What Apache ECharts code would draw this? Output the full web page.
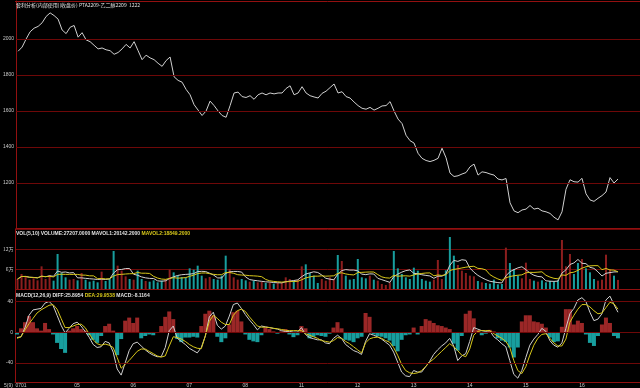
<!DOCTYPE html>
<html><head><meta charset="utf-8">
<script src="https://cdn.jsdelivr.net/npm/echarts@6/dist/echarts.min.js"></script>
<style>html,body{margin:0;padding:0;background:#000;}#c{width:640px;height:388px;}</style>
</head><body><div id="c"></div>
<script>
// ---- data ----
const titleText = '套利分析(内部使用)(收盘价) PTA2209-乙二醇2209  1222';
const xLabelIndex = [1,15,29,43,57,71,85,99,113,127,141];
const xLabelText = ['0701','05','06','07','08','11','12','13','14','15','16'];
const mainTicks = [1200,1400,1600,1800,2000];
const volTicks = [60000,120000];
const volTickText = ['6万','12万'];
const macdTicks = [-40,0,40];

const price = [1932,1955,2000,2040,2060,2070,2090,2125,2145,2130,
 2110,2050,2030,2065,2075,2010,2035,1995,1985,1965,
 1945,1950,1940,1935,1915,1925,1945,1970,1950,1985,
 1935,1885,1910,1895,1885,1865,1848,1880,1900,1790,
 1770,1760,1720,1690,1635,1605,1575,1600,1655,1630,
 1600,1575,1565,1630,1700,1705,1680,1675,1685,1665,
 1690,1700,1690,1700,1695,1700,1700,1725,1740,1690,
 1700,1735,1700,1685,1678,1672,1698,1710,1730,1750,
 1700,1707,1680,1672,1650,1630,1615,1610,1620,1605,
 1615,1628,1630,1652,1600,1555,1530,1465,1435,1422,
 1365,1337,1325,1319,1326,1337,1393,1340,1255,1236,
 1240,1250,1258,1290,1305,1244,1262,1258,1250,1244,
 1222,1217,1225,1090,1045,1035,1050,1055,1075,1055,
 1060,1045,1040,1031,1010,995,1040,1165,1218,1207,
 1205,1226,1140,1106,1098,1115,1130,1150,1230,1200,
 1222];

const volume = [30000,45000,38000,28000,32000,26000,68000,30000,42000,25000,
 105000,48000,35000,28000,30000,26000,48000,28000,22000,25000,
 20000,52000,24000,30000,114000,70000,55000,38000,30000,28000,
 55000,30000,24000,22000,26000,20000,25000,30000,58000,50000,
 40000,36000,35000,62000,58000,70000,40000,32000,36000,30000,
 28000,40000,100000,60000,35000,28000,30000,26000,22000,25000,
 20000,22000,18000,20000,16000,18000,20000,35000,30000,24000,
 28000,68000,74000,48000,40000,18000,30000,25000,35000,30000,
 102000,84000,40000,28000,30000,90000,35000,32000,40000,28000,
 25000,15000,12000,20000,114000,62000,45000,35000,30000,64000,
 55000,30000,25000,22000,28000,87000,30000,56000,156000,100000,
 72000,55000,48000,40000,38000,24000,20000,18000,16000,28000,
 14000,15000,124000,78000,60000,40000,32000,79000,30000,25000,
 22000,26000,20000,24000,22000,26000,147000,68000,105000,45000,
 78000,90000,62000,50000,30000,25000,28000,103000,60000,40000,
 27207];

const diff = [-7,-6,6,22,29,30,31,38,40,35,
 22,9,-1,5,11,13,8,1,-6.5,-16,
 -20,-19,-12,-14,-26,-48,-56,-40,-24,-15,
 -13,-18,-23,-27,-30,-32,-32,-20,2,8,
 -8,-12,-16,-21,-24,-27,-20,-5,20,26,
 9,4,8,21,36,38,31,23,16,10,
 3,8,7,6,5,4,2,1,1,0,
 0,6,-3,-7,-8.5,-10,-10,-14,-15,-8,
 -4,-8,-16,-20,-24,-26,-29,-12,-2,-4,
 -6,-9,-13,-17,-26,-39,-52,-57,-58,-50,
 -52,-52,-45,-38,-29,-23,-18,-14,-8,-18,
 -37,-31,-28,-12,6,4,2,1,2,-6,
 -10,-15,-19,-37,-55,-60,-50,-33,-17,-9,
 -3,5,1,-11,-17,-19.6,-14,5,24,31,
 42,45,40,26,15,17,24,42,47,36,
 26];

const dea = [-8,-6,3,11,18,25,29,32,35,36,
 30,18,6,6,8,10,10.5,6,-2,-10,
 -15,-17,-15.5,-17,-20,-33,-47,-42,-37,-31,
 -25,-22,-22,-25,-28,-31,-32.5,-31,-18,-6,
 -7,-9,-12,-16,-19,-21,-21.5,-5,14,22,
 18,13,10,10,22,28,30,27,20,14,
 8,6.5,6.5,6,5,4.5,3.5,2.5,2,2,
 2,2,-2,-4,-6,-8,-11,-12,-13,-11,
 -7,-8,-12,-15,-19,-23,-27,-14,-8.7,-7,
 -6.5,-8,-11,-13,-20,-30,-42,-50,-53,-54,
 -53,-50,-45,-39,-35,-30,-25,-20,-15,-19,
 -24,-30,-32,-22,-4,1,2,2,2,-2,
 -5,-8,-12,-20,-37,-50,-54,-45,-30,-17,
 -8,-3,-2,-8,-14,-18,-18,-9,13,22,
 30,36,36,33,28,24,25,32,39,37,
 30];

const macdHist = [-3,5,13,21,13,5,2,12,4,-3,
 -14,-22,-27,2,5,8,4,2,-4,-10,
 -14,-5,8,11,2,-30,-9,15,19,12,
 19,-8,-5,-3,-4,-1,8,20,27,17,
 -9,-13,-7,-7,-6,-7,8,24,28,22,
 -6,-13,-8,10,26,28,14,-3,-10,-12,
 -13,-4,6,4,1,-2,1,4,-3,-6.5,
 -4,8,5,-8,-6,-4,-5,-6,-2,6,
 13,5,-10,-11,-13,-8,-6,25,20,-3,
 -5,-6,-8,-11,-18,-25,-10,-4,-3,6,
 -3,8,17,15,12,9,8,6,4,-15,
 -24,-5,24,28,18,3,-4,-2,3,1,
 -8,-11,-13,-20,-33,-20,14,22,22,14,
 13,11,6,-7,-13,-12,7,30,30,10,
 15,12,-3,-14,-18,-5,10,19,12,-5,
 -8];

// ---- derived indicator lines (MAVOL 5 / 10 of the volume bars) ----
function movingAvg(arr, n){
  return arr.map((v,i)=>{ const s = Math.max(0,i-n+1); let t=0; for(let k=s;k<=i;k++) t+=arr[k]; return Math.round(t/(i-s+1)); });
}
const mavol1 = movingAvg(volume,5);
const mavol2 = movingAvg(volume,10);

// ---- styles ----
const PAD = 5;
const cats = Array.from({length: price.length + PAD}, (_, i) => String(i));
const gridRed = '#6e0808';
const borderRed = '#921010';
const txt = '#c8c8c8';
const barRed = '#8c1e1e';
const histRed = '#9b2727';
const downTeal = '#189e9e';
const yellow = '#d8c81a';
const font = 'Liberation Sans';
const fs = 5;

const chart = echarts.init(document.getElementById('c'), null, {renderer:'canvas'});
const hidden = {show:false};
function xa(g, labels){
  return {type:'category', gridIndex:g, data:cats, boundaryGap:true,
    axisLine:{show:true, onZero:false, lineStyle:{color:borderRed, width:1}},
    axisTick:hidden, splitLine:hidden,
    axisLabel: labels ? {show:true, interval:(i)=>xLabelIndex.includes(i), formatter:(v,i)=>{const k=xLabelIndex.indexOf(i); return k>=0?xLabelText[k]:'';}, color:txt, fontSize:fs, fontFamily:font, margin:1} : hidden};
}
function gridMark(vals){
  return {silent:true, symbol:['none','none'], label:hidden, animation:false,
    lineStyle:{color:gridRed, type:'solid', width:1, opacity:1},
    emphasis:{disabled:true},
    data: vals.map(v=>({yAxis:v}))};
}
const rich = {w:{color:'#e0e0e0', fontSize:fs, fontFamily:font}, y:{color:yellow, fontSize:fs, fontFamily:font}};
chart.setOption({
  animation:false,
  backgroundColor:'#000',
  title:[
    {text:titleText, left:16, top:3, padding:0, textStyle:{color:'#e0e0e0', fontSize:5, fontWeight:'normal', fontFamily:'Noto Sans CJK SC'}},
    {text:'{w|VOL(5,10) VOLUME:27207.0000 MAVOL1:20142.2000 }{y|MAVOL2:18849.2000}', left:16, top:231, padding:0,
      textStyle:{fontSize:fs, fontFamily:font, rich:rich}},
    {text:'{w|MACD(12,26,9) DIFF:25.8954 }{y|DEA:29.9538 }{w|MACD:-8.1164}', left:16, top:293, padding:0,
      textStyle:{fontSize:fs, fontFamily:font, rich:rich}},
    {text:'5(9)', left:4, top:383, padding:0, textStyle:{color:txt, fontSize:fs, fontWeight:'normal', fontFamily:font}}
  ],
  graphic:[{type:'line', shape:{x1:15, y1:1.5, x2:640, y2:1.5}, style:{stroke:borderRed, lineWidth:1}, silent:true}],
  grid:[
    {left:15, right:0, top:1, height:227},
    {left:15, right:0, top:229, height:60},
    {left:15, right:0, top:290, height:93}
  ],
  xAxis:[xa(0,false), xa(1,false), xa(2,true)],
  yAxis:[
    {type:'value', gridIndex:0, min:950, max:2211, interval:50,
      axisLine:{show:true, lineStyle:{color:borderRed}}, axisTick:hidden, splitLine:hidden,
      axisLabel:{formatter:v=>mainTicks.includes(v)?String(v):'', color:txt, fontSize:fs, fontFamily:font, margin:2}},
    {type:'value', gridIndex:1, min:0, max:180000, interval:60000,
      axisLine:{show:true, lineStyle:{color:borderRed}}, axisTick:hidden,
      splitLine:{show:true, lineStyle:{color:gridRed, width:1}},
      axisLabel:{formatter:v=>{const k=volTicks.indexOf(v); return k>=0?volTickText[k]:'';}, color:txt, fontSize:fs, fontFamily:'Noto Sans CJK SC', margin:2}},
    {type:'value', gridIndex:2, min:-65, max:55, interval:5,
      axisLine:{show:true, lineStyle:{color:borderRed}}, axisTick:hidden, splitLine:hidden,
      axisLabel:{formatter:v=>macdTicks.includes(v)?String(v):'', color:txt, fontSize:fs, fontFamily:font, margin:2}}
  ],
  series:[
    {name:'price', type:'line', xAxisIndex:0, yAxisIndex:0, data:price, symbol:'none',
      lineStyle:{color:'#d0d0d0', width:1}, markLine:gridMark(mainTicks), z:3},
    {name:'volume', type:'bar', xAxisIndex:1, yAxisIndex:1, data:volume, barWidth:2,
      itemStyle:{color:p=> (p.dataIndex===0 || price[p.dataIndex]>=price[p.dataIndex-1]) ? barRed : downTeal}},
    {name:'MAVOL1', type:'line', xAxisIndex:1, yAxisIndex:1, data:mavol1, symbol:'none', lineStyle:{color:'#d0d0d0', width:1}, z:4},
    {name:'MAVOL2', type:'line', xAxisIndex:1, yAxisIndex:1, data:mavol2, symbol:'none', lineStyle:{color:yellow, width:1}, z:4},
    {name:'MACD', type:'bar', xAxisIndex:2, yAxisIndex:2, data:macdHist, barWidth:'100%', barGap:'0%',
      itemStyle:{color:p=> p.value>=0 ? histRed : downTeal}, markLine:gridMark(macdTicks)},
    {name:'DIFF', type:'line', xAxisIndex:2, yAxisIndex:2, data:diff, symbol:'none', lineStyle:{color:'#d0d0d0', width:1}, z:4},
    {name:'DEA', type:'line', xAxisIndex:2, yAxisIndex:2, data:dea, symbol:'none', lineStyle:{color:yellow, width:1}, z:4}
  ]
});
</script></body></html>
